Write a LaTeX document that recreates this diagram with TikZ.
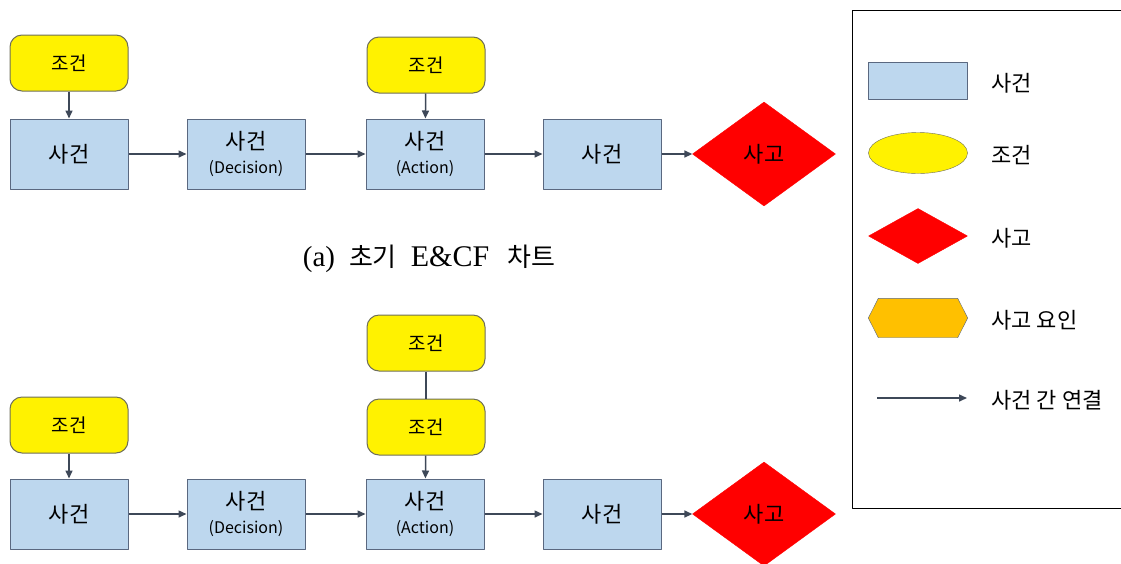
\documentclass[tikz,border=0pt]{standalone}
\usepackage{fontspec}
\setmainfont{Noto Sans CJK KR}
\newfontfamily\capserif{Liberation Serif}
\usetikzlibrary{shapes.geometric,arrows.meta}
\definecolor{evfill}{RGB}{189,215,238}
\definecolor{evline}{RGB}{90,104,128}
\definecolor{cdline}{RGB}{110,110,90}
\definecolor{link}{RGB}{62,72,88}
\definecolor{factor}{RGB}{255,192,0}

\begin{document}
\begin{tikzpicture}[x=1pt,y=-1pt,join=round, % E&CF chart
  event/.style={draw=evline,fill=evfill,line width=1pt,minimum width=118pt,minimum height=70pt,inner sep=0pt,align=center,font=\fontsize{22}{24}\selectfont},
  cond/.style={draw=cdline,fill=yellow,line width=1pt,rounded corners=12pt,minimum width=118pt,minimum height=56pt,inner sep=0pt,font=\fontsize{19}{21}\selectfont},
  accident/.style={diamond,draw=red,fill=red,minimum width=143pt,minimum height=104pt,inner sep=0pt,font=\fontsize{22}{24}\selectfont},
  link/.style={draw=link,line width=1.5pt,-{Triangle[length=8pt,width=7pt]}},
  legtext/.style={anchor=west,font=\fontsize{22}{24}\selectfont}]
  \useasboundingbox (0,0) rectangle (1121,563);
  % (a) chart
  \node[cond] (c1) at (69,63) {조건};
  \node[event] (e1) at (69,154) {사건};
  \node[event] (e2) at (246,154) {사건\\[0pt]{\fontsize{16}{18}\selectfont(Decision)}};
  \node[cond] (c2) at (426,65) {조건};
  \node[event] (e3) at (425,154) {사건\\[0pt]{\fontsize{16}{18}\selectfont(Action)}};
  \node[event] (e4) at (602,154) {사건};
  \node[accident] (a1) at (764,154) {사고};
  \draw[link] (c1) -- (e1);
  \draw[link] (c2) -- (e3);
  \draw[link] (e1) -- (e2);
  \draw[link] (e2) -- (e3);
  \draw[link] (e3) -- (e4);
  \draw[link] (e4) -- (a1);
  \node[font=\fontsize{26}{28}\selectfont] (cap) at (429,259) {{\capserif\fontsize{29}{31}\selectfont (a)}\hspace{14pt}초기\hspace{14pt}{\capserif\fontsize{30}{32}\selectfont E\&CF}\hspace{18pt}차트};
  % (b) chart
  \node[cond] (c3) at (69,425) {조건};
  \node[event] (e5) at (69,514) {사건};
  \node[event] (e6) at (246,514) {사건\\[0pt]{\fontsize{16}{18}\selectfont(Decision)}};
  \node[cond] (c4) at (426,343) {조건};
  \node[cond] (c5) at (426,427) {조건};
  \node[event] (e7) at (425,514) {사건\\[0pt]{\fontsize{16}{18}\selectfont(Action)}};
  \node[event] (e8) at (602,514) {사건};
  \node[accident] (a2) at (764,514) {사고};
  \draw[link] (c3) -- (e5);
  \draw[link,-] (c4) -- (c5);
  \draw[link] (c5) -- (e7);
  \draw[link] (e5) -- (e6);
  \draw[link] (e6) -- (e7);
  \draw[link] (e7) -- (e8);
  \draw[link] (e8) -- (a2);
  % legend
  \draw[line width=1pt] (852,10) rectangle (1130,508);
  \node[event,minimum width=99pt,minimum height=37pt] (l1) at (918,81) {};
  \node[ellipse,draw=cdline,fill=yellow,minimum width=99pt,minimum height=41pt,inner sep=0pt] (l2) at (918,153) {};
  \node[diamond,draw=red,fill=red,minimum width=99pt,minimum height=55pt,inner sep=0pt] (l3) at (918,236) {};
  \node[minimum width=99pt,minimum height=39pt,inner sep=0pt] (l4) at (918,318) {};
  \filldraw[draw=evline,fill=factor] (l4.west) -- ([xshift=10pt]l4.north west) -- ([xshift=-10pt]l4.north east)
     -- (l4.east) -- ([xshift=-10pt]l4.south east) -- ([xshift=10pt]l4.south west) -- cycle;
  \coordinate (l5a) at (877,398);
  \coordinate (l5b) at (967,398);
  \draw[link] (l5a) -- (l5b);
  \node[legtext] (t1) at (988,83) {사건};
  \node[legtext] (t2) at (988,155) {조건};
  \node[legtext] (t3) at (988,238) {사고};
  \node[legtext] (t4) at (988,320) {사고 요인};
  \node[legtext] (t5) at (988,400) {사건 간 연결};
\end{tikzpicture}
\end{document}
